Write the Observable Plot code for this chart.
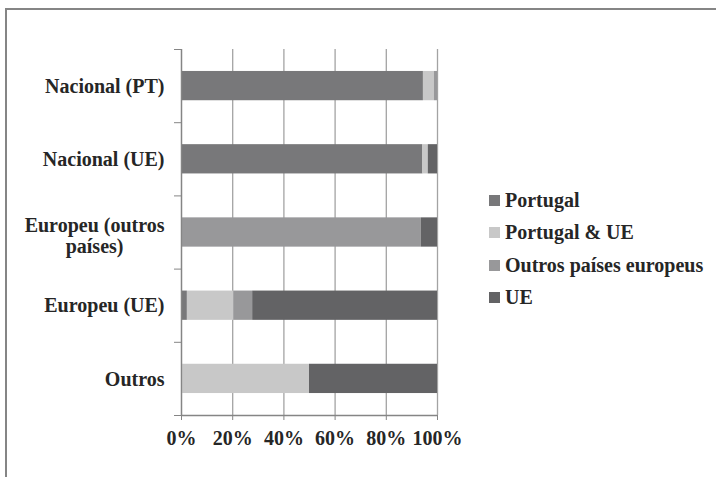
<!DOCTYPE html>
<html>
<head>
<meta charset="utf-8">
<script src="https://cdn.jsdelivr.net/npm/d3@7"></script>
<script src="https://cdn.jsdelivr.net/npm/@observablehq/plot@0.6"></script>
<style>
  html, body { margin: 0; padding: 0; background: #fff; }
  #wrap { position: relative; width: 716px; height: 477px; overflow: hidden; font-family: "Liberation Serif", "DejaVu Serif", serif; }
  #frame { position: absolute; left: 5px; top: 8px; width: 900px; height: 700px; border-top: 2px solid #858585; border-left: 2px solid #858585; }
  #chart { position: absolute; left: 0; top: 0; }
  #chart svg text { fill: #262626; font-weight: bold; font-family: "Liberation Serif", "DejaVu Serif", serif !important; }
  #legend { position: absolute; left: 489px; top: 184px; font-size: 20px; font-weight: bold; color: #262626; font-family: "Liberation Serif", "DejaVu Serif", serif; }
  #legend .row { display: flex; align-items: center; height: 32.5px; white-space: nowrap; }
  #legend .sw { width: 11px; height: 11px; margin-right: 5px; flex: none; }
</style>
</head>
<body>
<div id="wrap">
  <div id="frame"></div>
  <div id="chart"></div>
  <div id="legend"></div>
</div>
<script>
const categories = ["Nacional (PT)", "Nacional (UE)", "Europeu (outros\npaíses)", "Europeu (UE)", "Outros"];
const series = ["Portugal", "Portugal & UE", "Outros países europeus", "UE"];
const portugal      = [94.5, 94.3, 0,    2.3,  0];
const portugalUE    = [4.3,  2.1,  0,    18.1, 50];
const outrosEuropa  = [1.2,  0,    93.7, 7.4,  0];
const ue            = [0,    3.6,  6.3,  72.2, 50];
const xTicks = [0, 20, 40, 60, 80, 100];
const colors = ["#78787a", "#c8c8c8", "#98989a", "#636365"];

const seriesValues = [portugal, portugalUE, outrosEuropa, ue];
const rows = [];
categories.forEach((cat, i) => {
  series.forEach((s, j) => {
    rows.push({cat, idx: i, series: s, value: seriesValues[j][i]});
  });
});

const font = "'Liberation Serif', 'DejaVu Serif', serif";
const chart = Plot.plot({
  width: 716,
  height: 477,
  marginLeft: 181,
  marginRight: 279,
  marginTop: 49,
  marginBottom: 62,
  style: {fontFamily: font, fontSize: "20px", background: "transparent", color: "#858585"},
  x: {domain: [0, 100], axis: null, label: null},
  y: {domain: [0, categories.length], reverse: true, axis: null, label: null},
  color: {domain: series, range: colors},
  marks: [
    Plot.ruleX(xTicks, {stroke: "#a3a3a3", strokeWidth: 1.3}),
    Plot.rectX(rows, Plot.stackX({
      x: "value",
      y1: d => d.idx + 0.3,
      y2: d => d.idx + 0.7,
      fill: "series",
      order: null
    })),
    Plot.ruleX([0], {stroke: "#858585", strokeWidth: 1.3}),
    Plot.ruleY([categories.length], {stroke: "#858585", strokeWidth: 1.3}),
    Plot.axisX({ticks: xTicks, tickFormat: d => d + "%", tickSize: 5, tickPadding: 10, stroke: "#858585", fontSize: 20, fontWeight: "bold", label: null}),
    Plot.axisY({ticks: d3.range(categories.length + 1), tickSize: 7, tickFormat: () => "", stroke: "#858585", label: null}),
    Plot.axisY({ticks: categories.map((_, i) => i + 0.5), tickSize: 0, tickPadding: 17, tickFormat: d => categories[Math.floor(d)], fontSize: 20, fontWeight: "bold", lineHeight: 1.05, label: null})
  ]
});
document.getElementById("chart").appendChild(chart);

// center multi-line category labels like the original
chart.querySelectorAll("text").forEach(t => {
  const spans = t.querySelectorAll("tspan");
  if (spans.length > 1) {
    let w = 0;
    spans.forEach(s => { w = Math.max(w, s.getComputedTextLength()); });
    t.setAttribute("text-anchor", "middle");
    spans.forEach(s => s.setAttribute("x", -w / 2));
    spans.forEach((s, k) => { if (k === 0) s.setAttribute("dy", (parseFloat(s.getAttribute("dy")) || 0) + 3 + ""); });
  }
});

const legend = document.getElementById("legend");
series.forEach((s, j) => {
  const row = document.createElement("div");
  row.className = "row";
  const sw = document.createElement("span");
  sw.className = "sw";
  sw.style.background = colors[j];
  const label = document.createElement("span");
  label.textContent = s;
  row.appendChild(sw);
  row.appendChild(label);
  legend.appendChild(row);
});
</script>
</body>
</html>
